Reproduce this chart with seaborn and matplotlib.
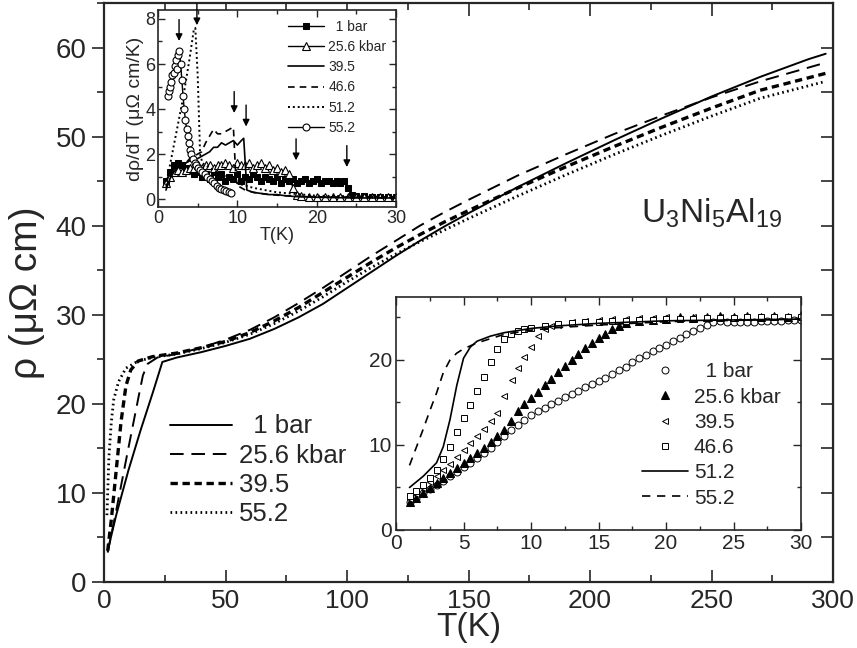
import numpy as np
import matplotlib
matplotlib.use("Agg")
import matplotlib.pyplot as plt
from matplotlib.ticker import MultipleLocator
import seaborn as sns

sns.set_style("ticks")
plt.rcParams['font.family'] = ['Liberation Sans', 'DejaVu Sans']
plt.rcParams['mathtext.fontset'] = 'custom'
plt.rcParams['mathtext.rm'] = 'Liberation Sans'
plt.rcParams['mathtext.it'] = 'Liberation Sans'

# ---- main panel: rho(T) up to 300 K ----
t_1bar = [1.5, 5, 10, 15, 20, 24, 30, 40, 50, 60, 70, 80, 90, 100, 110, 120, 130, 140, 150,
          170, 190, 210, 230, 250, 270, 290, 297]
r_1bar = [3.5, 7.5, 12.5, 17, 21.2, 24.7, 25.2, 25.8, 26.5, 27.3, 28.4, 29.7, 31.2, 33.0, 34.8,
          36.6, 38.3, 39.9, 41.4, 44.3, 47.0, 49.6, 52.1, 54.5, 56.7, 58.7, 59.3]
t_256 = [1.5, 5, 10, 14, 16, 18, 22, 30, 40, 50, 60, 70, 80, 90, 100, 110, 120, 130, 140, 150,
         170, 190, 210, 230, 250, 270, 297]
r_256 = [3.3, 8, 15, 20.5, 23.2, 24.5, 25.2, 25.6, 26.3, 27.2, 28.3, 29.7, 31.3, 33.0, 34.8,
         36.6, 38.3, 40.0, 41.5, 42.9, 45.6, 48.0, 50.3, 52.4, 54.4, 56.2, 58.3]
t_395 = [1.5, 3, 5, 7, 9, 11, 14, 20, 30, 40, 50, 60, 70, 80, 90, 100, 110, 120, 130, 140, 150,
         170, 190, 210, 230, 250, 270, 297]
r_395 = [3.5, 7, 12.5, 18, 22, 23.8, 24.8, 25.3, 25.7, 26.3, 27.0, 28.0, 29.3, 30.8, 32.5, 34.2,
         35.9, 37.5, 39.0, 40.4, 41.7, 44.2, 46.6, 48.9, 51.1, 53.2, 55.2, 57.1]
t_552 = [1.2, 1.5, 2, 3, 4, 6, 9, 14, 20, 30, 40, 50, 60, 70, 80, 90, 100, 110, 120, 130, 140,
         150, 170, 190, 210, 230, 250, 270, 297]
r_552 = [7.5, 10, 14, 18, 20.5, 22.5, 24, 24.8, 25.2, 25.6, 26.2, 26.9, 27.8, 29.0, 30.4, 32.0,
         33.7, 35.3, 36.8, 38.2, 39.5, 40.8, 43.3, 45.7, 48.0, 50.2, 52.3, 54.3, 56.2]
main_labels = ['  1 bar', '25.6 kbar', '39.5', '55.2']

# ---- upper inset: d rho / dT ----
d_t1 = [1.0, 1.5, 2.0, 2.5, 3.0, 3.5, 4.0, 4.5, 5.0, 5.5, 6.0, 6.5, 7.0, 7.5, 8.0, 8.5, 9.0, 9.5,
        10.0, 10.5, 11.0, 11.5, 12.0, 12.5, 13.0, 13.5, 14.0, 14.5, 15.0, 15.5, 16.0, 16.5, 17.0,
        17.5, 18.0, 18.5, 19.0, 19.5, 20.0, 20.5, 21.0, 21.5, 22.0, 22.5, 23.0, 23.5, 24.0, 24.5,
        25.0, 26.0, 27.0, 28.0, 29.0, 30.0]
d_v1 = [0.8, 1.2, 1.5, 1.6, 1.5, 1.4, 1.3, 1.1, 1.2, 1.0, 1.1, 0.9, 1.2, 1.0, 1.1, 0.8, 1.0, 0.9,
        1.1, 0.8, 1.0, 0.9, 1.1, 1.0, 0.8, 1.0, 0.9, 0.8, 1.0, 0.7, 0.9, 0.8, 0.9, 0.7, 0.8, 0.9,
        0.7, 0.8, 0.9, 0.7, 0.8, 0.8, 0.7, 0.8, 0.7, 0.8, 0.5, 0.2, 0.15, 0.12, 0.1, 0.1, 0.1, 0.1]
d_t2 = [1.0, 1.5, 2.0, 2.5, 3.0, 3.5, 4.0, 4.5, 5.0, 5.5, 6.0, 6.5, 7.0, 7.5, 8.0, 8.5, 9.0, 9.5,
        10.0, 10.5, 11.0, 11.5, 12.0, 12.5, 13.0, 13.5, 14.0, 14.5, 15.0, 15.5, 16.0, 16.5, 17.0,
        17.5, 18.0, 19.0, 20.0, 21.0, 22.0, 23.0, 24.0, 25.0, 26.0, 27.0, 28.0, 29.0, 30.0]
d_v2 = [0.7, 1.0, 1.2, 1.3, 1.2, 1.3, 1.4, 1.4, 1.5, 1.4, 1.5, 1.5, 1.4, 1.5, 1.5, 1.6, 1.5, 1.4,
        1.6, 1.5, 1.5, 1.6, 1.4, 1.5, 1.6, 1.4, 1.5, 1.3, 1.4, 1.2, 1.3, 1.1, 0.5, 0.2, 0.15, 0.1,
        0.1, 0.08, 0.1, 0.08, 0.1, 0.08, 0.1, 0.08, 0.1, 0.08, 0.1]
d_t3 = [1.0, 1.5, 2.0, 2.5, 3.0, 3.5, 4.0, 4.5, 5.0, 5.5, 6.0, 6.5, 7.0, 7.5, 8.0, 8.5, 9.0, 9.5,
        10.0, 10.5, 10.8, 11.2, 12.0, 13.0, 14.0, 15.0, 16.0, 17.0, 18.0, 20.0, 25.0, 30.0]
d_v3 = [0.4, 0.9, 1.2, 1.4, 1.5, 1.6, 1.7, 1.8, 1.8, 1.9, 2.0, 2.1, 2.3, 2.3, 2.5, 2.4, 2.5, 2.6,
        2.4, 2.6, 2.7, 0.4, 0.3, 0.25, 0.2, 0.2, 0.15, 0.12, 0.1, 0.08, 0.05, 0.05]
d_t4 = [1.0, 1.5, 2.0, 2.5, 3.0, 3.5, 4.0, 4.5, 5.0, 5.5, 6.0, 6.5, 7.0, 7.5, 8.0, 8.5, 9.0, 9.5,
        9.8, 10.0, 11.0, 12.0, 14.0, 16.0, 20.0, 30.0]
d_v4 = [0.5, 1.0, 1.3, 1.4, 1.5, 1.6, 1.8, 1.9, 2.0, 2.1, 2.5, 2.8, 3.1, 2.9, 2.9, 3.0, 3.1, 3.2,
        1.0, 0.6, 0.4, 0.3, 0.2, 0.15, 0.1, 0.05]
d_t5 = [1.0, 1.5, 2.0, 2.5, 3.0, 3.5, 4.0, 4.5, 4.7, 5.0, 5.3, 5.6, 6.0, 7.0, 8.0, 9.0, 10.0,
        12.0, 15.0, 20.0, 30.0]
d_v5 = [0.6, 1.5, 2.4, 3.3, 4.2, 5.2, 6.3, 7.5, 7.6, 5.5, 2.0, 1.6, 1.5, 1.3, 1.1, 0.9, 0.7, 0.5,
        0.3, 0.15, 0.1]
d_t6 = [1.2, 1.35, 1.5, 1.65, 1.8, 1.95, 2.1, 2.25, 2.4, 2.55, 2.7, 2.85, 3.0, 3.15, 3.3, 3.45,
        3.6, 3.75, 3.9, 4.05, 4.2, 4.4, 4.6, 4.8, 5.0, 5.3, 5.6, 5.9, 6.2, 6.5, 6.8, 7.1, 7.4,
        7.7, 8.0, 8.3, 8.6, 8.9, 9.2]
d_v6 = [4.6, 4.8, 5.0, 5.2, 5.5, 5.6, 5.9, 6.2, 5.8, 6.4, 6.6, 6.0, 5.3, 4.6, 4.0, 3.5, 3.1, 2.8,
        2.5, 2.2, 2.0, 1.8, 1.6, 1.5, 1.4, 1.3, 1.2, 1.1, 1.0, 0.9, 0.8, 0.7, 0.6, 0.5, 0.45,
        0.4, 0.35, 0.3, 0.27]
inset1_labels = ['  1 bar', '25.6 kbar', '39.5', '46.6', '51.2', '55.2']
arrow_t = [2.65, 4.9, 9.6, 11.1, 17.4, 23.8]
arrow_v = [6.9, 7.6, 3.7, 3.1, 1.6, 1.3]

# ---- lower inset: rho(T) below 30 K ----
l_t1 = [1.0, 1.5, 2.0, 2.5, 3.0, 3.5, 4.0, 4.5, 5.0, 5.5, 6.0, 6.5, 7.0, 7.5, 8.0, 8.5, 9.0, 9.5,
        10.0, 10.5, 11.0, 11.5, 12.0, 12.5, 13.0, 13.5, 14.0, 14.5, 15.0, 15.5, 16.0, 16.5, 17.0,
        17.5, 18.0, 18.5, 19.0, 19.5, 20.0, 20.5, 21.0, 21.5, 22.0, 22.5, 23.0, 23.5, 24.0, 24.5,
        25.0, 25.5, 26.0, 26.5, 27.0, 27.5, 28.0, 28.5, 29.0, 29.5, 30.0]
l_r1 = [3.3, 3.8, 4.3, 4.8, 5.3, 5.8, 6.3, 6.8, 7.4, 7.9, 8.5, 9.0, 9.6, 10.3, 11.0, 11.7, 12.3,
        12.9, 13.5, 14.0, 14.4, 14.8, 15.2, 15.6, 16.0, 16.4, 16.8, 17.2, 17.5, 17.9, 18.3, 18.8,
        19.2, 19.7, 20.2, 20.6, 21.0, 21.4, 21.8, 22.2, 22.6, 23.0, 23.4, 23.8, 24.1, 24.4, 24.6,
        24.5, 24.5, 24.4, 24.5, 24.5, 24.6, 24.6, 24.6, 24.6, 24.7, 24.7, 24.7]
l_t2 = [1.0, 1.5, 2.0, 2.5, 3.0, 3.5, 4.0, 4.5, 5.0, 5.5, 6.0, 6.5, 7.0, 7.5, 8.0, 8.5, 9.0, 9.5,
        10.0, 10.5, 11.0, 11.5, 12.0, 12.5, 13.0, 13.5, 14.0, 14.5, 15.0, 15.5, 16.0, 16.5, 17.0,
        18.0, 19.0, 20.0, 21.0, 22.0, 23.0, 24.0, 25.0, 26.0, 27.0, 28.0, 29.0, 30.0]
l_r2 = [3.3, 3.8, 4.4, 4.9, 5.5, 6.1, 6.7, 7.3, 7.9, 8.5, 9.1, 9.7, 10.4, 11.1, 11.8, 12.8, 14.0,
        14.8, 15.5, 16.2, 17.0, 17.8, 18.6, 19.3, 20.0, 20.7, 21.4, 22.0, 22.6, 23.1, 23.6, 24.0,
        24.3, 24.6, 24.7, 24.8, 25.0, 24.9, 25.1, 25.2, 25.0, 25.2, 25.1, 25.2, 25.0, 25.3]
l_t3 = [1.0, 1.5, 2.0, 2.5, 3.0, 3.5, 4.0, 4.5, 5.0, 5.5, 6.0, 6.5, 7.0, 7.5, 8.0, 8.6, 9.0, 9.5,
        10.0, 10.5, 11.0, 11.5, 12.0, 13.0, 14.0, 15.0, 16.0, 17.0, 18.0, 19.0, 20.0, 22.0, 24.0]
l_r3 = [3.6, 4.2, 4.9, 5.6, 6.3, 7.0, 7.8, 8.6, 9.4, 10.2, 11.0, 11.9, 12.8, 13.8, 15.8, 17.6,
        19.0, 20.3, 21.5, 22.8, 23.6, 24.0, 24.1, 24.4, 24.6, 24.7, 24.8, 24.8, 24.9, 24.9, 25.0,
        25.1, 25.1]
l_t4 = [1.0, 1.5, 2.0, 2.5, 3.0, 3.5, 4.0, 4.5, 5.0, 5.5, 6.0, 6.5, 7.0, 7.5, 8.0, 8.5, 9.0, 9.5,
        10.0, 11.0, 12.0, 13.0, 14.0, 15.0, 16.0, 17.0, 18.0, 19.0, 20.0, 21.0, 22.0, 23.0, 24.0,
        25.0, 26.0, 27.0, 28.0, 29.0, 30.0]
l_r4 = [4.0, 4.6, 5.3, 6.1, 7.0, 8.3, 9.8, 11.5, 13.2, 14.7, 16.4, 18.0, 19.7, 21.3, 22.5, 23.1,
        23.4, 23.6, 23.8, 24.0, 24.2, 24.3, 24.4, 24.5, 24.6, 24.6, 24.7, 24.7, 24.8, 24.8, 24.8,
        24.9, 24.9, 24.9, 25.0, 25.0, 25.0, 25.0, 25.0]
l_t5 = [1.0, 2.0, 3.0, 3.5, 4.0, 4.5, 5.0, 5.5, 6.0, 7.0, 8.0, 10.0, 12.0, 15.0, 20.0, 25.0, 30.0]
l_r5 = [5.0, 6.3, 7.9, 9.8, 13.0, 17.0, 20.2, 21.5, 22.2, 22.8, 23.2, 23.7, 24.0, 24.3, 24.6,
        24.7, 24.8]
l_t6 = [1.0, 1.5, 2.0, 2.5, 3.0, 3.5, 4.0, 4.5, 5.0, 6.0, 7.0, 8.0, 10.0, 12.0, 15.0, 20.0, 30.0]
l_r6 = [7.6, 9.7, 11.8, 14.0, 16.1, 18.5, 20.0, 20.8, 21.3, 22.0, 22.5, 23.0, 23.5, 23.8, 24.1,
        24.5, 24.8]
inset2_labels = ['  1 bar', '25.6 kbar', '39.5', '46.6', '51.2', '55.2']

fig = plt.figure(figsize=(8.57, 6.48), dpi=100)
ax = fig.add_axes([0.1214, 0.1019, 0.8506, 0.8935])

main_styles = [dict(lw=1.4, ls='-'),
               dict(lw=1.4, ls=(0, (7, 4))),
               dict(lw=2.4, ls=(0, (2.2, 1.4))),
               dict(lw=2.0, ls=(0, (0.6, 1.2)))]
for t, r, lab, st in zip([t_1bar, t_256, t_395, t_552], [r_1bar, r_256, r_395, r_552],
                         main_labels, main_styles):
    sns.lineplot(x=t, y=r, ax=ax, color='k', label=lab, sort=False, estimator=None, **st)

ax.set_xlim(0, 300)
ax.set_ylim(0, 65)
ax.xaxis.set_major_locator(MultipleLocator(50))
ax.xaxis.set_minor_locator(MultipleLocator(25))
ax.yaxis.set_major_locator(MultipleLocator(10))
ax.yaxis.set_minor_locator(MultipleLocator(5))
ax.tick_params(axis='x', which='both', direction='in', top=True, width=1.2)
ax.tick_params(axis='x', which='major', length=9, pad=5, labelsize=19)
ax.tick_params(axis='x', which='minor', length=5)
ax.tick_params(axis='y', which='both', direction='out', right=False, width=1.2)
ax.tick_params(axis='y', which='major', length=9, labelsize=20)
ax.tick_params(axis='y', which='minor', length=5)
ax.set_xlabel('T(K)', fontsize=24, labelpad=-1)
ax.set_ylabel('ρ (μΩ cm)', fontsize=28, labelpad=8)
for s in ax.spines.values():
    s.set_linewidth(1.6)
# right-hand ticks point inward
ax2 = ax.secondary_yaxis('right')
ax2.yaxis.set_major_locator(MultipleLocator(10))
ax2.yaxis.set_minor_locator(MultipleLocator(5))
ax2.tick_params(which='both', direction='in', length=9, width=1.2, labelright=False)

ax.legend(loc='upper left', bbox_to_anchor=(0.077, 0.307), frameon=False, fontsize=18.5,
          handlelength=2.4, handletextpad=0.25, labelspacing=0.2, borderaxespad=0)

fig.text(0.748, 0.657, r'U$_3$Ni$_5$Al$_{19}$', fontsize=24, va='baseline')

# ---- upper-left inset ----
ai = fig.add_axes([0.1844, 0.6806, 0.2777, 0.304])
ai.set_facecolor('white')
sns.lineplot(x=d_t1, y=d_v1, ax=ai, color='k', lw=1.0, marker='s', markersize=4,
             markerfacecolor='k', markeredgecolor='k', label=inset1_labels[0], sort=False, estimator=None)
sns.lineplot(x=d_t2, y=d_v2, ax=ai, color='k', lw=1.0, marker='^', markersize=6,
             markerfacecolor='white', markeredgecolor='k', markeredgewidth=0.8,
             label=inset1_labels[1], sort=False, estimator=None)
sns.lineplot(x=d_t3, y=d_v3, ax=ai, color='k', lw=1.2, ls='-', label=inset1_labels[2],
             sort=False, estimator=None)
sns.lineplot(x=d_t4, y=d_v4, ax=ai, color='k', lw=1.2, ls=(0, (4, 3)), label=inset1_labels[3],
             sort=False, estimator=None)
sns.lineplot(x=d_t5, y=d_v5, ax=ai, color='k', lw=1.4, ls=(0, (1, 1.5)), label=inset1_labels[4],
             sort=False, estimator=None)
sns.lineplot(x=d_t6, y=d_v6, ax=ai, color='k', lw=1.0, marker='o', markersize=5,
             markerfacecolor='white', markeredgecolor='k', markeredgewidth=0.8,
             label=inset1_labels[5], sort=False, estimator=None)
for t, v in zip(arrow_t, arrow_v):
    ai.annotate('', xy=(t, v), xytext=(t, v + 1.2),
                arrowprops=dict(arrowstyle='-|>', color='k', lw=1.0, mutation_scale=10))
ai.set_xlim(0, 30)
ai.set_ylim(-0.35, 8.4)
ai.xaxis.set_major_locator(MultipleLocator(10))
ai.xaxis.set_minor_locator(MultipleLocator(5))
ai.yaxis.set_major_locator(MultipleLocator(2))
ai.yaxis.set_minor_locator(MultipleLocator(1))
ai.tick_params(which='both', direction='in', top=True, right=True, labelsize=13, width=1.0)
ai.tick_params(which='major', length=5, pad=2)
ai.tick_params(which='minor', length=3)
ai.set_xlabel('T(K)', fontsize=13, labelpad=0)
ai.set_ylabel('dρ/dT (μΩ cm/K)', fontsize=14, labelpad=1)
for s in ai.spines.values():
    s.set_linewidth(1.2)
ai.legend(loc='upper right', frameon=False, fontsize=10, handlelength=2.6, handletextpad=0.3,
          labelspacing=0.45, borderaxespad=0.3)

# ---- lower-right inset ----
bi = fig.add_axes([0.4621, 0.1821, 0.4726, 0.3596])
bi.set_facecolor('white')
sns.lineplot(x=l_t1, y=l_r1, ax=bi, color='k', lw=0, marker='o', markersize=5,
             markerfacecolor='white', markeredgecolor='k', markeredgewidth=0.7,
             label=inset2_labels[0], sort=False, estimator=None)
sns.lineplot(x=l_t2, y=l_r2, ax=bi, color='k', lw=0, marker='^', markersize=6,
             markerfacecolor='k', markeredgecolor='k', label=inset2_labels[1], sort=False, estimator=None)
sns.lineplot(x=l_t3, y=l_r3, ax=bi, color='k', lw=0, marker='<', markersize=5,
             markerfacecolor='white', markeredgecolor='k', markeredgewidth=0.7,
             label=inset2_labels[2], sort=False, estimator=None)
sns.lineplot(x=l_t4, y=l_r4, ax=bi, color='k', lw=0, marker='s', markersize=4.5,
             markerfacecolor='white', markeredgecolor='k', markeredgewidth=0.7,
             label=inset2_labels[3], sort=False, estimator=None)
sns.lineplot(x=l_t5, y=l_r5, ax=bi, color='k', lw=1.2, ls='-', label=inset2_labels[4],
             sort=False, estimator=None)
sns.lineplot(x=l_t6, y=l_r6, ax=bi, color='k', lw=1.2, ls=(0, (5, 4)), label=inset2_labels[5],
             sort=False, estimator=None)
bi.set_xlim(0, 30)
bi.set_ylim(0, 27.4)
bi.xaxis.set_major_locator(MultipleLocator(5))
bi.xaxis.set_minor_locator(MultipleLocator(2.5))
bi.yaxis.set_major_locator(MultipleLocator(10))
bi.yaxis.set_minor_locator(MultipleLocator(5))
bi.tick_params(which='both', direction='in', top=True, right=True, labelsize=15, width=1.0)
bi.tick_params(which='major', length=6, pad=3)
bi.tick_params(which='minor', length=3)
for s in bi.spines.values():
    s.set_linewidth(1.2)
bi.legend(loc='lower right', bbox_to_anchor=(0.97, 0.06), frameon=False, fontsize=15,
          handlelength=2.2, handletextpad=0.3, labelspacing=0.3, borderaxespad=0)

fig.savefig('out.png', dpi=100)
